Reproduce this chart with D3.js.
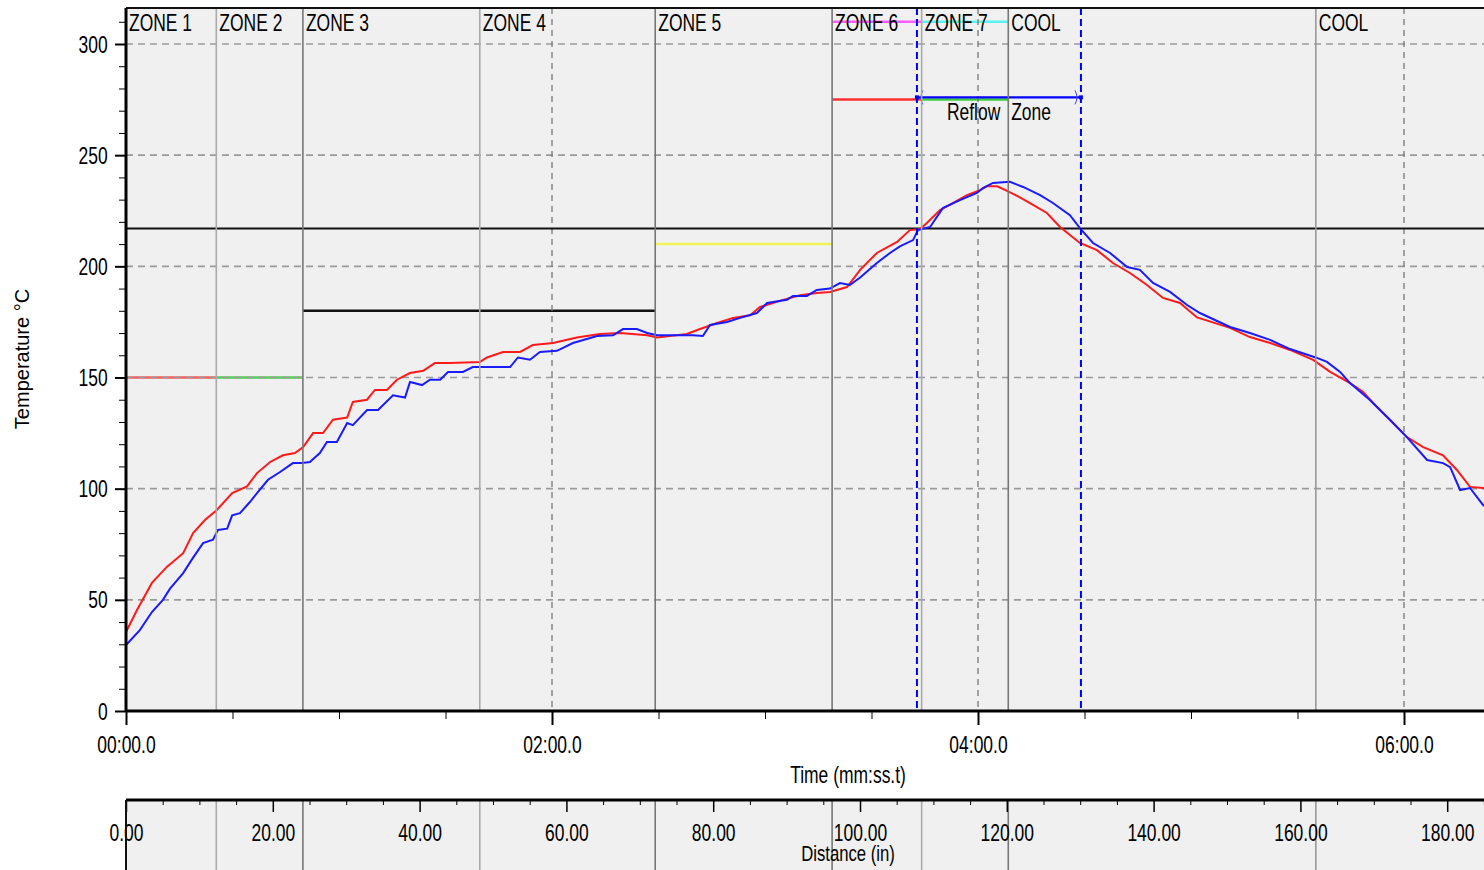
<!DOCTYPE html>
<html>
<head>
<meta charset="utf-8">
<script src="https://cdn.jsdelivr.net/npm/d3@7"></script>
<style>
  body { margin: 0; background: #fff; }
  svg { display: block; font-family: Arial, "Liberation Sans", sans-serif; }
</style>
</head>
<body>
<svg width="1484" height="870"></svg>
<script>
/*
    Reflow oven temperature profile: two thermocouples vs time, with oven zones,
    zone setpoints, liquidus line and the reflow window.
*/

// Oven zones (start position along the conveyor, inches)
let zoneNames = ['ZONE 1', 'ZONE 2', 'ZONE 3', 'ZONE 4', 'ZONE 5', 'ZONE 6', 'ZONE 7', 'COOL', 'COOL'];
let zoneStart = [0, 12.3, 24.1, 48.2, 72.1, 96.2, 108.4, 120.2, 162.1];
let zoneEnd   = [12.3, 24.1, 48.2, 72.1, 96.2, 108.4, 120.2, 162.1, 190];

// Zone setpoints (°C), null where there is none
let lowerSetpoint = [150, 150, 180, 180, 210, 275, 275, null, null];
let upperSetpoint = [null, null, null, null, null, 310, 310, null, null];

// Liquidus temperature and reflow window (seconds)
let liquidus = 217;
let reflowWindow = [222.8, 269.0];
let reflowLabel = 'Reflow Zone';

// Thermocouple 1 (red): time in s, temperature in °C
let tc1Time = [0, 3.1, 7.3, 11.5, 16.1, 18.9, 22.3, 25.6, 29.9, 34.1, 36.9, 40.6, 44.2, 47.6, 49.9,
    52.7, 55.5, 58.3, 62.3, 63.9, 67.9, 70.1, 73.5, 76.3, 80.0, 83.7, 87.0, 91.3, 99.7, 101.7,
    106.2, 111.0, 114.6, 120.3, 127.0, 133.5, 139.2, 146.8, 149.6, 158.0, 161.7, 166.5, 171.0,
    175.8, 178.6, 185.1, 189.9, 194.6, 198.3, 203.1, 206.8, 211.5, 217.2, 220.8, 223.7, 225.6,
    229.3, 233.0, 236.9, 240.6, 242.5, 245.4, 248.2, 251.8, 255.5, 259.4, 263.1, 268.7, 273.5,
    278.0, 282.8, 287.6, 292.1, 296.9, 301.7, 311.0, 316.6, 322.3, 327.9, 334.4, 339.2, 344.8,
    348.5, 352.4, 356.9, 360.8, 365.4, 371.0, 374.9, 378.6, 382.3, 386.0];
let tc1Temp = [35.5, 45.4, 57.6, 64.8, 71, 80, 86, 90.4, 98, 101, 107, 112, 115, 116, 118.7,
    125, 125, 131, 132, 139, 140, 144.4, 144.4, 149, 152, 153, 156.5, 156.5, 157, 159,
    161.5, 161.5, 164.6, 165.5, 168, 169.6, 170, 169, 168, 169.6, 171.8, 174.5, 176.8,
    178, 181.7, 184.9, 187, 188, 188.5, 190.7, 198.4, 206, 211, 216.3, 216.8, 219.5,
    225.3, 228.5, 232, 234.3, 236, 236, 233.9, 231, 227.6, 224, 217.7, 210.5, 207.3,
    201.5, 197, 191.6, 185.8, 183.5, 177, 172.3, 168.2, 165.5, 162.4, 157.9, 152.5, 147.5,
    143.5, 136.7, 129.5, 123.2, 118.7, 115, 108.4, 100.8, 100.3, 99];

// Thermocouple 2 (blue)
let tc2Time = [0, 3.9, 7.3, 10.4, 12.4, 16.1, 18.9, 21.7, 24.5, 25.9, 28.5, 29.9, 32.1, 34.9, 36.9,
    40.0, 43.4, 47.0, 49.6, 51.8, 54.6, 56.6, 59.4, 62.3, 63.9, 67.9, 71.0, 75.2, 78.6, 80.0,
    83.4, 85.6, 88.5, 90.7, 94.9, 97.7, 108.2, 110.4, 113.8, 116.6, 121.4, 125.9, 132.7, 137.2,
    140.0, 143.9, 146.8, 149.6, 159.7, 162.5, 164.5, 169.3, 173.0, 177.7, 180.6, 186.2, 187.9,
    191.8, 194.6, 198.3, 201.1, 203.9, 206.8, 211.5, 215.2, 218.0, 221.7, 223.1, 226.5, 230.1,
    234.9, 239.7, 241.4, 244.2, 249.0, 252.7, 257.5, 261.1, 265.9, 268.7, 272.4, 277.2, 282.0,
    285.6, 289.3, 294.1, 298.9, 302.5, 311.0, 316.6, 322.3, 327.9, 335.5, 338.3, 342.0, 344.8,
    350.4, 356.1, 360.8, 366.5, 371.0, 373.0, 375.8, 378.6, 382.3, 386.0];
let tc2Temp = [29.7, 36.4, 44.5, 50, 55, 62, 69, 75.5, 77, 81.4, 82, 88, 89, 94, 98,
    104, 107.5, 111.5, 111.5, 112, 116, 121, 121, 129.5, 128.6, 135.4, 135.4, 142, 141, 148,
    146.6, 149, 149, 152.5, 152.5, 154.7, 154.7, 159, 158, 161.5, 162, 165.5, 168.7, 169,
    171.8, 171.8, 170, 169, 169, 168.7, 173.6, 175, 176.8, 179, 183.5, 185, 186.7,
    186.7, 189.4, 190, 192.5, 191.6, 195, 201.5, 206, 209, 211.8, 216.3, 217.7, 226.2,
    229.8, 233, 235.2, 237.5, 238, 235.7, 232, 228.5, 223, 217.2, 210.5, 206, 199.7,
    198.4, 192.5, 188.5, 182.6, 179, 172.7, 170, 166.9, 162.8, 158.8, 157, 152.5, 147.5,
    139.9, 130.9, 123.2, 112.9, 111.5, 109.7, 99.4, 100.3, 92.6, 89];

// Axis ticks
let tempTicks = [0, 50, 100, 150, 200, 250, 300];
let timeTicks = [0, 120, 240, 360];
let distanceTicks = [0, 20, 40, 60, 80, 100, 120, 140, 160, 180];

// Select the svg element and define constants
let svg = d3.select('svg');
let width = +svg.attr('width');
let plot = {left: 126, top: 8, bottom: 711, right: width + 20};
let distTop = 800;
let labelScale = 'scale(0.76,1)';
let labelSize = '23px';

// Styles that belong to the drawing, not the data
let setpointColor = ['#ff5a5a', '#4fd14f', '#111', '#111', '#f2f25a', '#ff3030', '#3ccf3c', null, null];
let upperColor = [null, null, null, null, null, '#ff5cff', '#5cf2f2', null, null];
let boundaryColor = ['#aaa', '#777', '#aaa', '#777', '#777', '#aaa', '#777', '#999'];

// Scales
let x = d3.scaleLinear().domain([0, 390]).range([plot.left, plot.left + 390 * 3.55]);
let xd = d3.scaleLinear().domain([0, 190]).range([plot.left, plot.left + 190 * 7.34]);
let y = d3.scaleLinear().domain([0, 300]).range([plot.bottom, 44]);

let fmtTime = t => String(Math.floor(t / 60)).padStart(2, '0') + ':' + (t % 60).toFixed(1).padStart(4, '0');

// Clip path for the plot area
svg.append('defs').append('clipPath').attr('id', 'clip')
    .append('rect')
    .attr('x', plot.left).attr('y', plot.top)
    .attr('width', plot.right - plot.left).attr('height', plot.bottom - plot.top);

// Backgrounds
svg.append('rect')
    .attr('x', plot.left).attr('y', plot.top)
    .attr('width', plot.right - plot.left).attr('height', plot.bottom - plot.top)
    .attr('fill', '#f0f0f0');

svg.append('rect')
    .attr('x', plot.left).attr('y', distTop)
    .attr('width', plot.right - plot.left).attr('height', 80)
    .attr('fill', '#f0f0f0');

let area = svg.append('g').attr('clip-path', 'url(#clip)');

// Zone setpoint lines
zoneNames.forEach((z, i) => {
    if (lowerSetpoint[i] != null) {
        area.append('line')
            .attr('x1', xd(zoneStart[i])).attr('x2', xd(zoneEnd[i]))
            .attr('y1', y(lowerSetpoint[i])).attr('y2', y(lowerSetpoint[i]))
            .attr('stroke', setpointColor[i]).attr('stroke-width', 2.5);
    }
    if (upperSetpoint[i] != null) {
        area.append('line')
            .attr('x1', xd(zoneStart[i])).attr('x2', xd(zoneEnd[i]))
            .attr('y1', y(upperSetpoint[i])).attr('y2', y(upperSetpoint[i]))
            .attr('stroke', upperColor[i]).attr('stroke-width', 2.5);
    }
});

// Horizontal gridlines
area.selectAll('.hgrid')
    .data(tempTicks.filter(d => d > 0))
    .enter().append('line')
    .attr('x1', plot.left).attr('x2', plot.right)
    .attr('y1', d => y(d)).attr('y2', d => y(d))
    .attr('stroke', '#9a9a9a').attr('stroke-width', 1.6)
    .attr('stroke-dasharray', '7,5');

// Vertical time gridlines
area.selectAll('.vgrid')
    .data(timeTicks.filter(d => d > 0))
    .enter().append('line')
    .attr('x1', d => x(d)).attr('x2', d => x(d))
    .attr('y1', plot.top).attr('y2', plot.bottom)
    .attr('stroke', '#777').attr('stroke-width', 1.3)
    .attr('stroke-dasharray', '6,5');

// Zone boundaries (plot and distance panel)
zoneStart.slice(1).forEach((d, i) => {
    svg.append('line')
        .attr('x1', xd(d)).attr('x2', xd(d))
        .attr('y1', plot.top).attr('y2', plot.bottom)
        .attr('stroke', boundaryColor[i]).attr('stroke-width', 1.6);
    svg.append('line')
        .attr('x1', xd(d)).attr('x2', xd(d))
        .attr('y1', distTop).attr('y2', 870)
        .attr('stroke', boundaryColor[i]).attr('stroke-width', 1.6);
});

// Zone labels
zoneNames.forEach((z, i) => {
    svg.append('text')
        .attr('transform', 'translate(' + (xd(zoneStart[i]) + 3) + ',31) ' + labelScale)
        .attr('font-size', labelSize)
        .attr('fill', '#000')
        .text(z);
});

// Liquidus line
area.append('line')
    .attr('x1', plot.left).attr('x2', plot.right)
    .attr('y1', y(liquidus)).attr('y2', y(liquidus))
    .attr('stroke', '#111').attr('stroke-width', 2);

// Thermocouple curves
let line = d3.line().x(d => x(d[0])).y(d => y(d[1]));

area.append('path')
    .datum(tc1Time.map((t, i) => [t, tc1Temp[i]]))
    .attr('d', line)
    .attr('fill', 'none').attr('stroke', '#ff1a1a').attr('stroke-width', 2);

area.append('path')
    .datum(tc2Time.map((t, i) => [t, tc2Temp[i]]))
    .attr('d', line)
    .attr('fill', 'none').attr('stroke', '#1a1aff').attr('stroke-width', 2);

// Reflow window
area.selectAll('.reflow')
    .data(reflowWindow)
    .enter().append('line')
    .attr('x1', d => x(d)).attr('x2', d => x(d))
    .attr('y1', plot.top).attr('y2', plot.bottom)
    .attr('stroke', '#0000ff').attr('stroke-width', 2)
    .attr('stroke-dasharray', '7,4');

let ay = y(276);
let ax0 = x(reflowWindow[0]), ax1 = x(reflowWindow[1]);
area.append('line')
    .attr('x1', ax0).attr('x2', ax1).attr('y1', ay).attr('y2', ay)
    .attr('stroke', '#0000ff').attr('stroke-width', 2.2);
[ax0, ax1].forEach((ax, i) => {
    let dir = i === 0 ? 1 : -1;
    area.append('rect')
        .attr('x', ax - 2).attr('y', ay - 2).attr('width', 4).attr('height', 4)
        .attr('fill', '#0000ff');
    area.append('path')
        .attr('d', 'M' + (ax + dir * 6) + ',' + (ay - 7) + ' Q' + (ax + dir * 2) + ',' + ay + ' ' + (ax + dir * 6) + ',' + (ay + 7))
        .attr('fill', 'none').attr('stroke', '#4040ff').attr('stroke-width', 1);
});
svg.append('text')
    .attr('transform', 'translate(' + ((ax0 + ax1) / 2) + ',120) ' + labelScale)
    .attr('text-anchor', 'middle')
    .attr('font-size', labelSize)
    .attr('word-spacing', '8px')
    .attr('fill', '#000')
    .text(reflowLabel);

// Top border
svg.append('line')
    .attr('x1', plot.left).attr('x2', plot.right).attr('y1', plot.top).attr('y2', plot.top)
    .attr('stroke', '#111').attr('stroke-width', 2);

// Y axis
let yAxis = svg.append('g')
    .attr('transform', 'translate(' + plot.left + ',0)')
    .call(d3.axisLeft(y).tickValues(tempTicks).tickSize(11).tickPadding(0));
svg.append('g')
    .attr('transform', 'translate(' + plot.left + ',0)')
    .call(d3.axisLeft(y).tickValues(d3.range(10, 320, 10).filter(d => d % 50)).tickSize(7).tickFormat(''))
    .select('.domain').remove();
yAxis.select('.domain').attr('d', 'M0,' + plot.top + 'V' + plot.bottom).attr('stroke-width', 3);
yAxis.selectAll('.tick line').attr('stroke-width', 2);
yAxis.selectAll('text')
    .attr('x', -24).attr('dy', '0.35em')
    .attr('transform', labelScale)
    .attr('font-size', labelSize).attr('fill', '#000');

// Time axis
let xAxis = svg.append('g')
    .attr('transform', 'translate(0,' + plot.bottom + ')')
    .call(d3.axisBottom(x).tickValues(timeTicks).tickSize(14).tickFormat(fmtTime));
svg.append('g')
    .attr('transform', 'translate(0,' + plot.bottom + ')')
    .call(d3.axisBottom(x).tickValues(d3.range(30, 390, 30).filter(d => d % 120)).tickSize(8).tickFormat(''))
    .select('.domain').remove();
xAxis.select('.domain').attr('d', 'M' + plot.left + ',0H' + plot.right).attr('stroke-width', 3);
xAxis.selectAll('.tick line').attr('stroke-width', 2);
xAxis.selectAll('text')
    .attr('y', 42).attr('dy', null)
    .attr('transform', labelScale)
    .attr('font-size', labelSize).attr('fill', '#000');

// Distance axis
let dAxis = svg.append('g')
    .attr('transform', 'translate(0,' + distTop + ')')
    .call(d3.axisBottom(xd).tickValues(distanceTicks).tickSize(12).tickFormat(d3.format('.2f')));
svg.append('g')
    .attr('transform', 'translate(0,' + distTop + ')')
    .call(d3.axisBottom(xd).tickValues(d3.range(5, 190, 5).filter(d => d % 20)).tickSize(5).tickFormat(''))
    .select('.domain').remove();
dAxis.select('.domain').attr('d', 'M' + plot.left + ',0H' + plot.right).attr('stroke-width', 3);
dAxis.selectAll('.tick line').attr('stroke-width', 1.5);
dAxis.selectAll('text')
    .attr('y', 41).attr('dy', null)
    .attr('transform', labelScale)
    .attr('font-size', labelSize).attr('fill', '#000');
svg.append('line')
    .attr('x1', plot.left).attr('x2', plot.left).attr('y1', distTop).attr('y2', 870)
    .attr('stroke', '#111').attr('stroke-width', 2);

// Axis titles
svg.append('text')
    .attr('transform', 'translate(848,783) ' + labelScale)
    .attr('text-anchor', 'middle')
    .attr('font-size', labelSize).attr('fill', '#000')
    .text('Time (mm:ss.t)');

svg.append('text')
    .attr('transform', 'translate(848,861) ' + labelScale)
    .attr('text-anchor', 'middle')
    .attr('font-size', '22px').attr('fill', '#000')
    .text('Distance (in)');

svg.append('text')
    .attr('transform', 'translate(29,359) rotate(-90)')
    .attr('text-anchor', 'middle')
    .attr('font-size', '20px').attr('fill', '#000')
    .text('Temperature °C');
</script>
</body>
</html>
